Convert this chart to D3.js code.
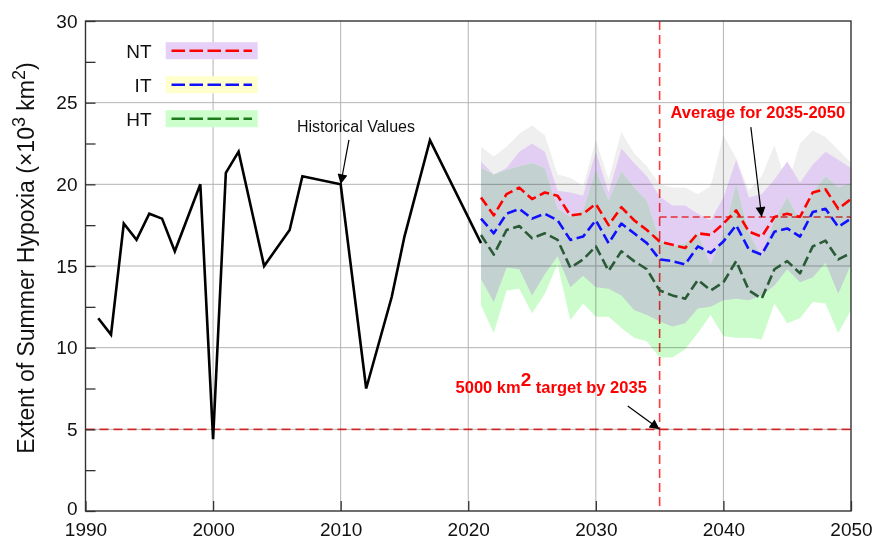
<!DOCTYPE html>
<html>
<head>
<meta charset="utf-8">
<script src="https://cdn.jsdelivr.net/npm/d3@7"></script>
<style>
  body { margin: 0; background: #fff; }
  text { font-family: "Liberation Sans", Arial, sans-serif; }
</style>
</head>
<body>
<svg id="chart" width="874" height="539"></svg>
<script>
// ---- Observed hypoxia extent (×10^3 km^2) ----
const histYears  = [1991, 1992, 1993, 1994, 1995, 1996, 1997, 1999, 2000, 2001, 2002, 2004, 2006, 2007, 2010, 2012, 2014, 2015, 2017, 2021];
const histValues = [11.8, 10.8, 17.6, 16.6, 18.2, 17.9, 15.9, 20.0, 4.4, 20.7, 22.0, 15.0, 17.2, 20.5, 20.0, 7.5, 13.1, 16.8, 22.7, 16.4];

// ---- Projected scenarios 2021-2050 ----
const projYears = [2021, 2022, 2023, 2024, 2025, 2026, 2027, 2028, 2029, 2030,
                   2031, 2032, 2033, 2034, 2035, 2036, 2037, 2038, 2039, 2040,
                   2041, 2042, 2043, 2044, 2045, 2046, 2047, 2048, 2049, 2050];

const ntMean = [19.2, 18.1, 19.4, 19.8, 19.1, 19.5, 19.3, 18.1, 18.2, 18.8,
                17.5, 18.6, 17.8, 17.2, 16.5, 16.3, 16.1, 17.0, 16.9, 17.6,
                18.4, 17.1, 16.8, 18.0, 18.2, 18.0, 19.5, 19.7, 18.5, 19.1];
const itMean = [17.9, 17.0, 18.2, 18.5, 17.9, 18.2, 17.8, 16.6, 16.8, 17.8,
                16.4, 17.6, 17.0, 16.4, 15.4, 15.3, 15.1, 16.2, 15.8, 16.5,
                17.5, 16.0, 15.7, 17.1, 17.3, 16.8, 18.3, 18.5, 17.4, 17.9];
const htMean = [16.9, 15.7, 17.2, 17.45, 16.7, 17.0, 16.6, 14.9, 15.4, 16.2,
                14.7, 15.9, 15.3, 14.8, 13.5, 13.2, 13.0, 14.15, 13.5, 14.0,
                15.3, 13.5, 13.0, 14.8, 15.3, 14.55, 16.2, 16.55, 15.4, 15.8];

// uncertainty ranges
const ntLow  = [14.2, 12.8, 14.9, 14.8, 13.2, 14.5, 15.6, 13.7, 14.4, 13.7,
                13.6, 13.2, 12.3, 12.0, 11.6, 11.3, 11.5, 12.4, 12.5, 12.9,
                13.0, 12.9, 13.2, 13.8, 14.8, 14.0, 14.3, 15.2, 13.3, 15.1];
const ntHigh = [21.4, 20.6, 21.0, 22.0, 22.5, 22.0, 19.6, 19.5, 19.3, 22.0,
                19.5, 22.2, 21.3, 20.5, 19.25, 18.7, 18.7, 18.2, 17.8, 19.2,
                21.5, 19.2, 19.4, 20.3, 21.4, 20.1, 21.2, 22.0, 21.5, 21.0];
const itLow  = [13.4, 11.9, 14.2, 14.2, 12.6, 13.9, 15.3, 12.6, 13.5, 12.8,
                12.7, 12.2, 11.4, 11.2, 10.5, 10.4, 10.7, 11.6, 12.2, 11.8,
                11.8, 11.7, 11.8, 13.2, 13.1, 12.9, 13.5, 13.9, 12.1, 13.7];
const itHigh = [22.3, 21.7, 22.3, 23.1, 23.6, 23.0, 20.6, 20.4, 19.9, 22.7,
                20.3, 23.2, 21.9, 21.1, 20.0, 19.8, 19.8, 19.4, 19.9, 23.0,
                21.6, 19.6, 20.5, 22.4, 19.9, 22.5, 23.3, 22.9, 22.1, 21.3];
const htLow  = [12.6, 10.9, 13.5, 13.6, 12.1, 13.3, 15.1, 11.7, 12.7, 11.9,
                11.9, 11.2, 10.6, 10.4, 9.4, 9.4, 9.9, 10.9, 12.0, 10.7,
                10.6, 10.6, 10.5, 12.7, 11.5, 11.8, 12.8, 12.7, 10.9, 12.3];
const htHigh = [21.0, 20.6, 20.9, 21.1, 21.3, 21.0, 18.5, 18.0, 18.4, 20.9,
                19.0, 20.8, 19.8, 19.0, 16.6, 16.2, 16.4, 17.0, 15.1, 17.0,
                20.0, 17.0, 15.6, 17.8, 19.2, 17.8, 19.5, 20.5, 19.8, 20.1];

// ---- Axes and reference values ----
const xTicks = [1990, 2000, 2010, 2020, 2030, 2040, 2050];
const yTicks = [0, 5, 10, 15, 20, 25, 30];
const yMinorTicks = [2.5, 7.5, 12.5, 17.5, 22.5, 27.5];
const targetValue = 5;        // 5000 km^2 goal
const targetYear = 2035;
const averageValue = 18.0;    // NT average 2035-2050
const averageSpan = [2035, 2050];

const scenarioNames  = ["NT", "IT", "HT"];
const scenarioLines  = ["#ff0000", "#1010ff", "#1e7b1e"];
const scenarioPatch  = ["#e6d0f7", "#ffffcc", "#ccffcc"];

// ---- Layout ----
const svg = d3.select("#chart");
const plotL = 85.5, plotR = 851, plotT = 21, plotB = 511;

const x = d3.scaleLinear().domain([1990, 2050]).range([plotL, plotR]);
const y = d3.scaleLinear().domain([0, 30]).range([plotB, plotT]);

const defs = svg.append("defs");
defs.append("marker")
  .attr("id", "arrowhead")
  .attr("viewBox", "0 0 10 10")
  .attr("refX", 10).attr("refY", 5)
  .attr("markerUnits", "userSpaceOnUse")
  .attr("markerWidth", 13).attr("markerHeight", 10)
  .attr("orient", "auto")
  .append("path").attr("d", "M0,0 L10,5 L0,10 Z").attr("fill", "#000");

const rows = projYears.map((yr, i) => ({
  year: yr,
  nt: ntMean[i], it: itMean[i], ht: htMean[i],
  ntLo: ntLow[i], ntHi: ntHigh[i],
  itLo: itLow[i], itHi: itHigh[i],
  htLo: htLow[i], htHi: htHigh[i]
}));

const band = (lo, hi) => d3.area()
  .x(d => x(d.year))
  .y0(d => y(d[lo]))
  .y1(d => y(d[hi]));

const plot = svg.append("g");

// uncertainty bands
plot.append("path").datum(rows).attr("d", band("itLo", "itHi")).attr("fill", "#efefef");
plot.append("path").datum(rows).attr("d", band("ntLo", "ntHi")).attr("fill", "#e2cef2");
plot.append("path").datum(rows).attr("d", band("htLo", "htHi")).attr("fill", "#ccfccc");

defs.append("clipPath").attr("id", "ntClip")
  .append("path").datum(rows).attr("d", band("ntLo", "ntHi"));
plot.append("path").datum(rows).attr("d", band("htLo", "htHi"))
  .attr("clip-path", "url(#ntClip)")
  .attr("fill", "#c3d2d1");

// grid
const grid = svg.append("g").style("mix-blend-mode", "multiply");
grid.selectAll("line.vg").data(xTicks.slice(1, -1)).join("line")
  .attr("x1", d => x(d)).attr("x2", d => x(d))
  .attr("y1", plotT).attr("y2", plotB)
  .attr("stroke", "#b4b4b4").attr("stroke-width", 1);
grid.selectAll("line.hg").data(yTicks.slice(1, -1)).join("line")
  .attr("x1", plotL).attr("x2", plotR)
  .attr("y1", d => y(d)).attr("y2", d => y(d))
  .attr("stroke", "#b4b4b4").attr("stroke-width", 1);

// reference lines
const refs = svg.append("g").style("mix-blend-mode", "multiply");
refs.append("line")
  .attr("x1", x(1990)).attr("x2", x(2050))
  .attr("y1", y(targetValue)).attr("y2", y(targetValue))
  .attr("stroke", "#ff3a3a").attr("stroke-width", 1.6).attr("stroke-dasharray", "9,5");
refs.append("line")
  .attr("x1", x(targetYear)).attr("x2", x(targetYear))
  .attr("y1", y(30)).attr("y2", y(0))
  .attr("stroke", "#ff3a3a").attr("stroke-width", 1.6).attr("stroke-dasharray", "9,5");
refs.append("line")
  .attr("x1", x(averageSpan[0])).attr("x2", x(averageSpan[1]))
  .attr("y1", y(averageValue)).attr("y2", y(averageValue))
  .attr("stroke", "#ff3a3a").attr("stroke-width", 1.3).attr("stroke-dasharray", "7,4");

// scenario mean lines
const meanLine = key => d3.line().x(d => x(d.year)).y(d => y(d[key]));
const lineColors = { nt: "#ff0000", it: "#1010ff", ht: "#2a5a36" };
["nt", "it", "ht"].forEach(k => {
  svg.append("path").datum(rows)
    .attr("d", meanLine(k))
    .attr("fill", "none")
    .attr("stroke", lineColors[k])
    .attr("stroke-width", 2.6)
    .attr("stroke-dasharray", "10,4.5")
    .attr("stroke-linejoin", "round");
});

// historical series
const hist = histYears.map((yr, i) => ({ year: yr, v: histValues[i] }));
svg.append("path").datum(hist)
  .attr("d", d3.line().x(d => x(d.year)).y(d => y(d.v)))
  .attr("fill", "none").attr("stroke", "#000").attr("stroke-width", 2.6)
  .attr("stroke-linejoin", "miter");

// axes
const xAxis = d3.axisBottom(x).tickValues(xTicks).tickFormat(d3.format("d"))
  .tickSizeInner(-10).tickSizeOuter(0).tickPadding(12);
const yAxis = d3.axisLeft(y).tickValues(yTicks).tickFormat(d3.format("d"))
  .tickSizeInner(-10).tickSizeOuter(0).tickPadding(8);
const yMinor = d3.axisLeft(y).tickValues(yMinorTicks).tickFormat("")
  .tickSizeInner(-10).tickSizeOuter(0);

const gx = svg.append("g").attr("transform", `translate(0,${plotB})`).call(xAxis);
const gy = svg.append("g").attr("transform", `translate(${plotL},0)`).call(yAxis);
const gym = svg.append("g").attr("transform", `translate(${plotL},0)`).call(yMinor);
[gx, gy, gym].forEach(g => {
  g.select(".domain").remove();
  g.selectAll(".tick line").attr("stroke", "#333").attr("stroke-width", 1.3);
  g.selectAll(".tick text").attr("font-size", 19).attr("fill", "#111")
    .style("font-family", "'Liberation Sans', Arial, sans-serif");
});
// lift the zero label a little so it clears the first year label
gy.selectAll(".tick text").filter(d => d === 0).attr("dy", "0.18em");

svg.append("rect")
  .attr("x", plotL).attr("y", plotT)
  .attr("width", plotR - plotL).attr("height", plotB - plotT)
  .attr("fill", "none").attr("stroke", "#333").attr("stroke-width", 1.4);

// y-axis title
const yTitle = svg.append("text")
  .attr("transform", `translate(34,${(plotT + plotB) / 2 - 8}) rotate(-90)`)
  .attr("text-anchor", "middle")
  .attr("font-size", 23).attr("fill", "#111");
yTitle.append("tspan").text("Extent of Summer Hypoxia (×10");
yTitle.append("tspan").attr("dy", -9).attr("font-size", 18).text("3");
yTitle.append("tspan").attr("dy", 9).text(" km");
yTitle.append("tspan").attr("dy", -9).attr("font-size", 18).text("2");
yTitle.append("tspan").attr("dy", 9).text(")");

// annotations
svg.append("text")
  .attr("x", x(2011.2)).attr("y", y(23.23))
  .attr("text-anchor", "middle").attr("font-size", 16).attr("fill", "#111")
  .text("Historical Values");
svg.append("line")
  .attr("x1", x(2010.65)).attr("y1", y(22.72))
  .attr("x2", x(2010)).attr("y2", y(20.0))
  .attr("stroke", "#000").attr("stroke-width", 1.2)
  .attr("marker-end", "url(#arrowhead)");

svg.append("text")
  .attr("x", x(2042.7)).attr("y", y(24.07))
  .attr("text-anchor", "middle").attr("font-size", 16.5).attr("font-weight", "bold")
  .attr("fill", "#ff0000")
  .text("Average for 2035-2050");
svg.append("line")
  .attr("x1", x(2042.15)).attr("y1", y(23.5))
  .attr("x2", x(2043)).attr("y2", y(averageValue))
  .attr("stroke", "#000").attr("stroke-width", 1.2)
  .attr("marker-end", "url(#arrowhead)");

const tgt = svg.append("text")
  .attr("x", x(2026.5)).attr("y", y(7.23))
  .attr("text-anchor", "middle").attr("font-size", 16.5).attr("font-weight", "bold")
  .attr("fill", "#ff0000");
tgt.append("tspan").text("5000 km");
tgt.append("tspan").attr("dy", -7).attr("font-size", 19).text("2");
tgt.append("tspan").attr("dy", 7).text(" target by 2035");
svg.append("line")
  .attr("x1", x(2032.5)).attr("y1", y(6.43))
  .attr("x2", x(targetYear)).attr("y2", y(targetValue))
  .attr("stroke", "#000").attr("stroke-width", 1.2)
  .attr("marker-end", "url(#arrowhead)");

// legend
const legend = svg.append("g");
scenarioNames.forEach((name, i) => {
  const cy = 50.7 + i * 34;
  legend.append("rect")
    .attr("x", 165.7).attr("y", cy - 8.5)
    .attr("width", 92).attr("height", 17)
    .attr("fill", scenarioPatch[i]);
  legend.append("line")
    .attr("x1", 171.5).attr("x2", 252)
    .attr("y1", cy).attr("y2", cy)
    .attr("stroke", scenarioLines[i]).attr("stroke-width", 2.6)
    .attr("stroke-dasharray", "13.5,4.5");
  legend.append("text")
    .attr("x", 151.5).attr("y", cy + 7)
    .attr("text-anchor", "end").attr("font-size", 19).attr("fill", "#111")
    .text(name);
});
</script>
</body>
</html>
